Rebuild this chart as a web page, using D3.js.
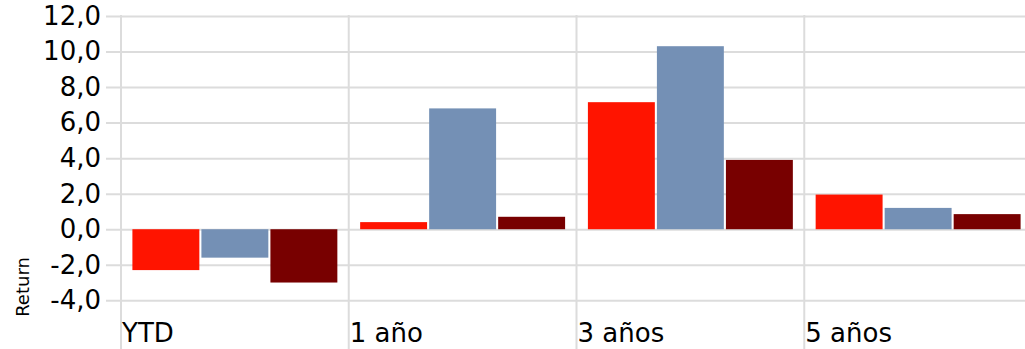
<!DOCTYPE html>
<html><head><meta charset="utf-8">
<script src="https://cdn.jsdelivr.net/npm/d3@7"></script>
<style>body{margin:0;background:#fff}svg{display:block}text{font-family:"DejaVu Sans",Verdana,sans-serif}</style>
</head><body><svg id="c" width="1025" height="349"></svg>
<script>
const categories = ["YTD", "1 año", "3 años", "5 años"];
const seriesNames = ["A", "B", "C"];
const seriesA = [-2.3, 0.4, 7.15, 1.95];
const seriesB = [-1.6, 6.8, 10.3, 1.2];
const seriesC = [-3.0, 0.7, 3.9, 0.85];
const yTicks = [-4, -2, 0, 2, 4, 6, 8, 10, 12];
const colors = ["#ff1400", "#7490b5", "#780000"];

const svg = d3.select("#c");
const x0 = d3.scaleBand().domain(categories).range([121, 1032]).paddingInner(0).paddingOuter(0);
const x1 = d3.scaleBand().domain(seriesNames).range([11.4, x0.bandwidth() - 11.4]).paddingInner(0.03);
const y = d3.scaleLinear().domain([-4, 12]).range([300.3, 16]);
const fmt = v => d3.format(".1f")(v).replace(".", ",").replace("−", "-");

// horizontal grid
const yAxis = d3.axisLeft(y).tickValues(yTicks).tickSize(-(1025 - 106)).tickFormat(fmt).tickPadding(6);
const gy = svg.append("g").attr("transform", "translate(106,0)").call(yAxis);
gy.select(".domain").remove();
gy.selectAll(".tick line").attr("stroke", "#dcdcdc").attr("stroke-width", 2).attr("x1", 0).attr("x2", 1025 - 106);
gy.selectAll(".tick text").attr("font-size", 26).attr("fill", "#000").attr("x", -5);

// vertical grid lines at band starts
svg.append("g").selectAll("line").data(categories).join("line")
  .attr("x1", d => x0(d)).attr("x2", d => x0(d)).attr("y1", 15).attr("y2", 349)
  .attr("stroke", "#dcdcdc").attr("stroke-width", 2);

// bars
const data = categories.map((c, i) => ({c, vals: [seriesA[i], seriesB[i], seriesC[i]]}));
const g = svg.append("g").selectAll("g").data(data).join("g")
  .attr("transform", d => `translate(${x0(d.c)},0)`);
g.selectAll("rect").data(d => d.vals.map((v, j) => ({s: seriesNames[j], v, j}))).join("rect")
  .attr("x", d => x1(d.s)).attr("width", x1.bandwidth())
  .attr("y", d => y(Math.max(0, d.v))).attr("height", d => Math.abs(y(d.v) - y(0)))
  .attr("fill", d => colors[d.j]);

// category labels
svg.append("g").selectAll("text").data(categories).join("text")
  .attr("x", d => x0(d) + 1).attr("y", 342).attr("font-size", 26).attr("fill", "#000").text(d => d);

// axis title
svg.append("text").attr("transform", "translate(29,287) rotate(-90)").attr("text-anchor", "middle")
  .attr("font-size", 18).attr("fill", "#000").text("Return");
</script></body></html>
